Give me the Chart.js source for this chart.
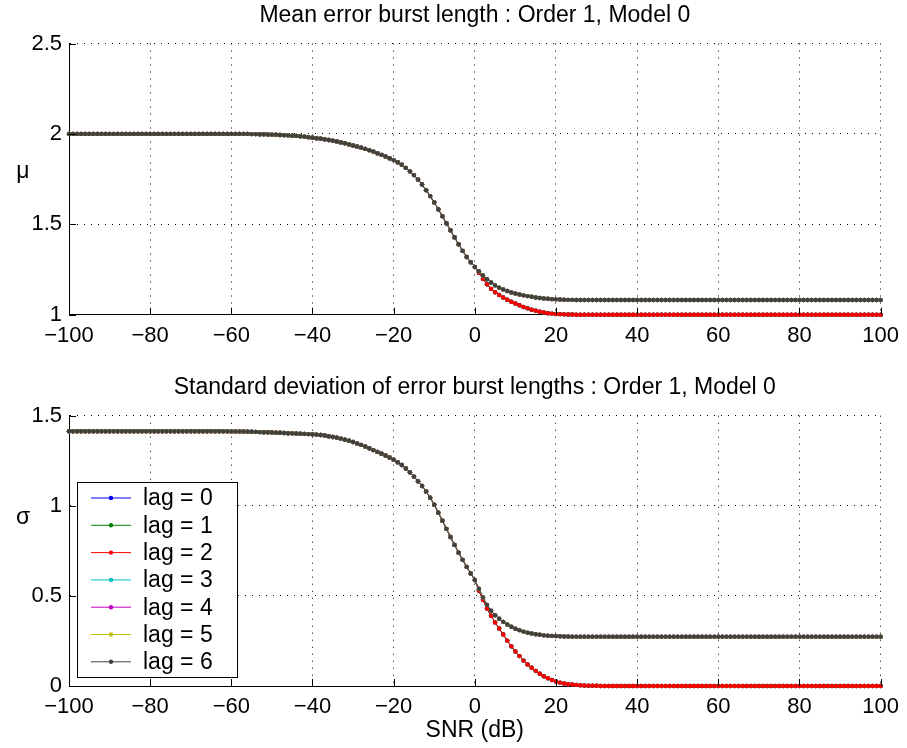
<!DOCTYPE html>
<html>
<head>
<meta charset="utf-8">
<title>Error burst statistics</title>
<script src="https://cdn.jsdelivr.net/npm/chart.js"></script>
<style>
  body { margin: 0; background: #fff; }
  canvas { position: absolute; left: 0; }
  #muChart { top: 0; }
  #sigmaChart { top: 370px; }
</style>
</head>
<body>
<canvas id="muChart" width="907" height="370"></canvas>
<canvas id="sigmaChart" width="907" height="378"></canvas>
<script>
// SNR grid (dB)
const snr = [
  -100, -99, -98, -97, -96, -95, -94, -93, -92, -91, -90, -89, -88, -87, -86, -85, -84, -83, -82, -81,
  -80, -79, -78, -77, -76, -75, -74, -73, -72, -71, -70, -69, -68, -67, -66, -65, -64, -63, -62, -61,
  -60, -59, -58, -57, -56, -55, -54, -53, -52, -51, -50, -49, -48, -47, -46, -45, -44, -43, -42, -41,
  -40, -39, -38, -37, -36, -35, -34, -33, -32, -31, -30, -29, -28, -27, -26, -25, -24, -23, -22, -21,
  -20, -19, -18, -17, -16, -15, -14, -13, -12, -11, -10, -9, -8, -7, -6, -5, -4, -3, -2, -1,
  0, 1, 2, 3, 4, 5, 6, 7, 8, 9, 10, 11, 12, 13, 14, 15, 16, 17, 18, 19,
  20, 21, 22, 23, 24, 25, 26, 27, 28, 29, 30, 31, 32, 33, 34, 35, 36, 37, 38, 39,
  40, 41, 42, 43, 44, 45, 46, 47, 48, 49, 50, 51, 52, 53, 54, 55, 56, 57, 58, 59,
  60, 61, 62, 63, 64, 65, 66, 67, 68, 69, 70, 71, 72, 73, 74, 75, 76, 77, 78, 79,
  80, 81, 82, 83, 84, 85, 86, 87, 88, 89, 90, 91, 92, 93, 94, 95, 96, 97, 98, 99,
  100
]

// mean burst length, -100 .. 0 dB (all lags agree here)
const muShared = [
  2.000, 2.000, 2.000, 2.000, 2.000, 2.000, 2.000, 2.000, 2.000, 2.000, 2.000, 2.000, 2.000, 2.000, 2.000,
  2.000, 2.000, 2.000, 2.000, 2.000, 2.000, 2.000, 2.000, 2.000, 2.000, 2.000, 2.000, 2.000, 2.000, 2.000,
  2.000, 2.000, 2.000, 2.000, 2.000, 2.000, 2.000, 2.000, 2.000, 2.000, 2.000, 2.000, 2.000, 2.000, 2.000,
  1.999, 1.999, 1.998, 1.998, 1.997, 1.996, 1.995, 1.994, 1.993, 1.992, 1.990, 1.989, 1.987, 1.985, 1.982,
  1.979, 1.976, 1.973, 1.970, 1.966, 1.962, 1.958, 1.953, 1.948, 1.942, 1.936, 1.930, 1.924, 1.917, 1.910,
  1.902, 1.893, 1.884, 1.875, 1.865,
  1.855, 1.843, 1.829, 1.812, 1.793, 1.772, 1.748, 1.720, 1.689, 1.656, 1.621, 1.583, 1.545, 1.506, 1.467,
  1.428, 1.390, 1.353, 1.319, 1.290,
  1.264
]
// 1 .. 100 dB, lags 0-2
const muLowTail = [
  1.232, 1.198, 1.168, 1.143, 1.124, 1.109, 1.095, 1.083, 1.072, 1.062,
  1.052, 1.043, 1.035, 1.028, 1.022, 1.016, 1.012, 1.008, 1.006, 1.004,
  1.003, 1.002, 1.001, 1.001, 1.000, 1.000, 1.000, 1.000, 1.000, 1.000,
  1.000, 1.000, 1.000, 1.000, 1.000, 1.000, 1.000, 1.000, 1.000, 1.000,
  1.000, 1.000, 1.000, 1.000, 1.000, 1.000, 1.000, 1.000, 1.000, 1.000,
  1.000, 1.000, 1.000, 1.000, 1.000, 1.000, 1.000, 1.000, 1.000, 1.000,
  1.000, 1.000, 1.000, 1.000, 1.000, 1.000, 1.000, 1.000, 1.000, 1.000,
  1.000, 1.000, 1.000, 1.000, 1.000, 1.000, 1.000, 1.000, 1.000, 1.000,
  1.000, 1.000, 1.000, 1.000, 1.000, 1.000, 1.000, 1.000, 1.000, 1.000,
  1.000, 1.000, 1.000, 1.000, 1.000, 1.000, 1.000, 1.000, 1.000, 1.000
]
// 1 .. 100 dB, lags 3-6
const muHighTail = [
  1.240, 1.217, 1.196, 1.178, 1.162, 1.149, 1.140, 1.131, 1.123, 1.117,
  1.112, 1.107, 1.103, 1.099, 1.095, 1.092, 1.090, 1.088, 1.086, 1.085,
  1.084, 1.083, 1.082, 1.082, 1.081, 1.081, 1.081, 1.081, 1.081, 1.081,
  1.081, 1.081, 1.081, 1.081, 1.081, 1.081, 1.081, 1.081, 1.081, 1.081,
  1.081, 1.081, 1.081, 1.081, 1.081, 1.081, 1.081, 1.081, 1.081, 1.081,
  1.081, 1.081, 1.081, 1.081, 1.081, 1.081, 1.081, 1.081, 1.081, 1.081,
  1.081, 1.081, 1.081, 1.081, 1.081, 1.081, 1.081, 1.081, 1.081, 1.081,
  1.081, 1.081, 1.081, 1.081, 1.081, 1.081, 1.081, 1.081, 1.081, 1.081,
  1.081, 1.081, 1.081, 1.081, 1.081, 1.081, 1.081, 1.081, 1.081, 1.081,
  1.081, 1.081, 1.081, 1.081, 1.081, 1.081, 1.081, 1.081, 1.081, 1.081
]

// standard deviation, -100 .. 0 dB
const sdShared = [
  1.414, 1.414, 1.414, 1.414, 1.414, 1.414, 1.414, 1.414, 1.414, 1.414,
  1.414, 1.414, 1.414, 1.414, 1.414, 1.414, 1.414, 1.414, 1.414, 1.414,
  1.414, 1.414, 1.414, 1.414, 1.414, 1.414, 1.414, 1.414, 1.414, 1.414,
  1.414, 1.414, 1.414, 1.414, 1.414, 1.414, 1.414, 1.414, 1.414, 1.414,
  1.413, 1.413, 1.412, 1.412, 1.411, 1.411, 1.410, 1.409, 1.408, 1.408,
  1.407, 1.406, 1.405, 1.404, 1.403, 1.402, 1.401, 1.400, 1.399, 1.398,
  1.397, 1.395, 1.393, 1.390, 1.386, 1.382, 1.378, 1.373, 1.367, 1.361,
  1.354, 1.346, 1.338, 1.329, 1.319, 1.309, 1.299, 1.289, 1.279, 1.268,
  1.256, 1.242, 1.226, 1.207, 1.186, 1.162, 1.136, 1.110, 1.080, 1.045,
  1.006, 0.962, 0.917, 0.872, 0.827, 0.783, 0.740, 0.700, 0.661, 0.624,
  0.588
]
const sdLowTail = [
  0.530, 0.478, 0.430, 0.390, 0.353, 0.319, 0.286, 0.252, 0.220, 0.192,
  0.166, 0.141, 0.120, 0.101, 0.084, 0.068, 0.054, 0.043, 0.033, 0.025,
  0.019, 0.014, 0.010, 0.008, 0.006, 0.004, 0.003, 0.002, 0.001, 0.001,
  0.000, 0.000, 0.000, 0.000, 0.000, 0.000, 0.000, 0.000, 0.000, 0.000,
  0.000, 0.000, 0.000, 0.000, 0.000, 0.000, 0.000, 0.000, 0.000, 0.000,
  0.000, 0.000, 0.000, 0.000, 0.000, 0.000, 0.000, 0.000, 0.000, 0.000,
  0.000, 0.000, 0.000, 0.000, 0.000, 0.000, 0.000, 0.000, 0.000, 0.000,
  0.000, 0.000, 0.000, 0.000, 0.000, 0.000, 0.000, 0.000, 0.000, 0.000,
  0.000, 0.000, 0.000, 0.000, 0.000, 0.000, 0.000, 0.000, 0.000, 0.000,
  0.000, 0.000, 0.000, 0.000, 0.000, 0.000, 0.000, 0.000, 0.000, 0.000
]
const sdHighTail = [
  0.540, 0.492, 0.450, 0.418, 0.393, 0.373, 0.356, 0.341, 0.329, 0.318,
  0.310, 0.302, 0.296, 0.291, 0.287, 0.284, 0.281, 0.279, 0.278, 0.277,
  0.276, 0.275, 0.275, 0.274, 0.274, 0.274, 0.274, 0.274, 0.274, 0.274,
  0.274, 0.274, 0.274, 0.274, 0.274, 0.274, 0.274, 0.274, 0.274, 0.274,
  0.274, 0.274, 0.274, 0.274, 0.274, 0.274, 0.274, 0.274, 0.274, 0.274,
  0.274, 0.274, 0.274, 0.274, 0.274, 0.274, 0.274, 0.274, 0.274, 0.274,
  0.274, 0.274, 0.274, 0.274, 0.274, 0.274, 0.274, 0.274, 0.274, 0.274,
  0.274, 0.274, 0.274, 0.274, 0.274, 0.274, 0.274, 0.274, 0.274, 0.274,
  0.274, 0.274, 0.274, 0.274, 0.274, 0.274, 0.274, 0.274, 0.274, 0.274,
  0.274, 0.274, 0.274, 0.274, 0.274, 0.274, 0.274, 0.274, 0.274, 0.274
]

const lags = ['lag = 0', 'lag = 1', 'lag = 2', 'lag = 3', 'lag = 4', 'lag = 5', 'lag = 6']
const lagColors = ['#0000ff', '#008000', '#ff0000', '#00bfbf', '#bf00bf', '#bfbf00', '#404040']
// lags 0..2 fall to the error-free floor, 3..6 level off higher
const lowGroup = [true, true, true, false, false, false, false]

const xTicks = [-100, -80, -60, -40, -20, 0, 20, 40, 60, 80, 100]

const muLow = [...muShared, ...muLowTail]
const muHigh = [...muShared, ...muHighTail]
const sdLow = [...sdShared, ...sdLowTail]
const sdHigh = [...sdShared, ...sdHighTail]

const FONT = '"Liberation Sans", Arial, Helvetica, sans-serif'

function series(low, high) {
  return lags.map((label, i) => {
    const vals = lowGroup[i] ? low : high
    return {
      label,
      data: snr.map((x, k) => ({ x, y: vals[k] })),
      borderColor: lagColors[i],
      backgroundColor: lagColors[i],
      borderWidth: 1,
      pointRadius: 2.2,
      pointBorderWidth: 0,
      pointBackgroundColor: lagColors[i],
      tension: 0,
      clip: false,
      order: lags.length - 1 - i
    }
  })
}

// MATLAB-style decorations: inward ticks, title, axis labels, legend box
const decor = {
  id: 'decor',
  afterDraw(chart, args, opts) {
    const { ctx, chartArea: a, scales: { x, y } } = chart
    ctx.save()
    ctx.strokeStyle = '#000'
    ctx.lineWidth = 1
    ctx.beginPath()
    for (const t of x.ticks) {
      const px = Math.round(x.getPixelForValue(t.value)) + 0.5
      ctx.moveTo(px, a.bottom)
      ctx.lineTo(px, a.bottom - 7)
    }
    for (const t of y.ticks) {
      const py = Math.round(y.getPixelForValue(t.value)) + 0.5
      ctx.moveTo(a.left, py)
      ctx.lineTo(a.left + 7, py)
    }
    ctx.stroke()

    ctx.fillStyle = '#000'
    ctx.font = `23px ${FONT}`
    ctx.textAlign = 'center'
    ctx.textBaseline = 'middle'
    const cx = (a.left + a.right) / 2
    ctx.fillText(opts.title, cx, opts.titleY)
    ctx.fillText(opts.ylabel, 23, opts.ylabelY)
    if (opts.xlabel) ctx.fillText(opts.xlabel, cx, opts.xlabelY)

    if (opts.legend) {
      const L = opts.legend
      ctx.fillStyle = '#fff'
      ctx.fillRect(L.x, L.y, L.w, L.h)
      ctx.strokeStyle = '#000'
      ctx.strokeRect(L.x + 0.5, L.y + 0.5, L.w, L.h)
      ctx.textAlign = 'left'
      chart.data.datasets.forEach((ds, i) => {
        const ry = L.y + 16 + i * 27.3
        ctx.strokeStyle = ds.borderColor
        ctx.lineWidth = 1
        ctx.beginPath()
        ctx.moveTo(L.x + 14, ry)
        ctx.lineTo(L.x + 54, ry)
        ctx.stroke()
        ctx.fillStyle = ds.borderColor
        ctx.beginPath()
        ctx.arc(L.x + 34, ry, 2.2, 0, Math.PI * 2)
        ctx.fill()
        ctx.fillStyle = '#000'
        ctx.fillText(ds.label, L.x + 66, ry + 1)
      })
    }
    ctx.restore()
  }
}

function axes(yMin, yMax) {
  const tickFont = { family: FONT, size: 22 }
  return {
    x: {
      type: 'linear',
      min: -100,
      max: 100,
      afterBuildTicks: s => { s.ticks = xTicks.map(v => ({ value: v })) },
      ticks: {
        color: '#000',
        font: tickFont,
        padding: 8,
        autoSkip: false,
        maxRotation: 0,
        callback: v => String(v).replace('-', '\u2212')
      },
      grid: { color: '#000', lineWidth: 1, drawTicks: false },
      border: { color: '#000', width: 1, dash: [1, 6] },
      afterFit: s => { s.height = 40 }
    },
    y: {
      min: yMin,
      max: yMax,
      ticks: {
        stepSize: 0.5,
        color: '#000',
        font: tickFont,
        padding: 7,
        callback: v => String(v)
      },
      grid: { color: '#000', lineWidth: 1, drawTicks: false },
      border: { color: '#000', width: 1, dash: [1, 6] },
      afterFit: s => { s.width = 69 }
    }
  }
}

function baseOptions(yMin, yMax, padding, decorOpts) {
  return {
    responsive: false,
    animation: false,
    events: [],
    layout: { padding },
    scales: axes(yMin, yMax),
    plugins: {
      legend: { display: false },
      tooltip: { enabled: false },
      decor: decorOpts
    }
  }
}

new Chart(document.getElementById('muChart'), {
  type: 'line',
  data: { datasets: series(muLow, muHigh) },
  options: baseOptions(1, 2.5, { top: 43.5, right: 23, bottom: 15.3, left: 0 }, {
    title: 'Mean error burst length : Order 1, Model 0',
    titleY: 16,
    ylabel: '\u03bc',
    ylabelY: 172
  }),
  plugins: [decor]
})

new Chart(document.getElementById('sigmaChart'), {
  type: 'line',
  data: { datasets: series(sdLow, sdHigh) },
  options: baseOptions(0, 1.5, { top: 45.7, right: 23, bottom: 22, left: 0 }, {
    title: 'Standard deviation of error burst lengths : Order 1, Model 0',
    titleY: 18,
    ylabel: '\u03c3',
    ylabelY: 148,
    xlabel: 'SNR (dB)',
    xlabelY: 361,
    legend: { x: 77, y: 112, w: 160, h: 195 }
  }),
  plugins: [decor]
})
</script>
</body>
</html>
